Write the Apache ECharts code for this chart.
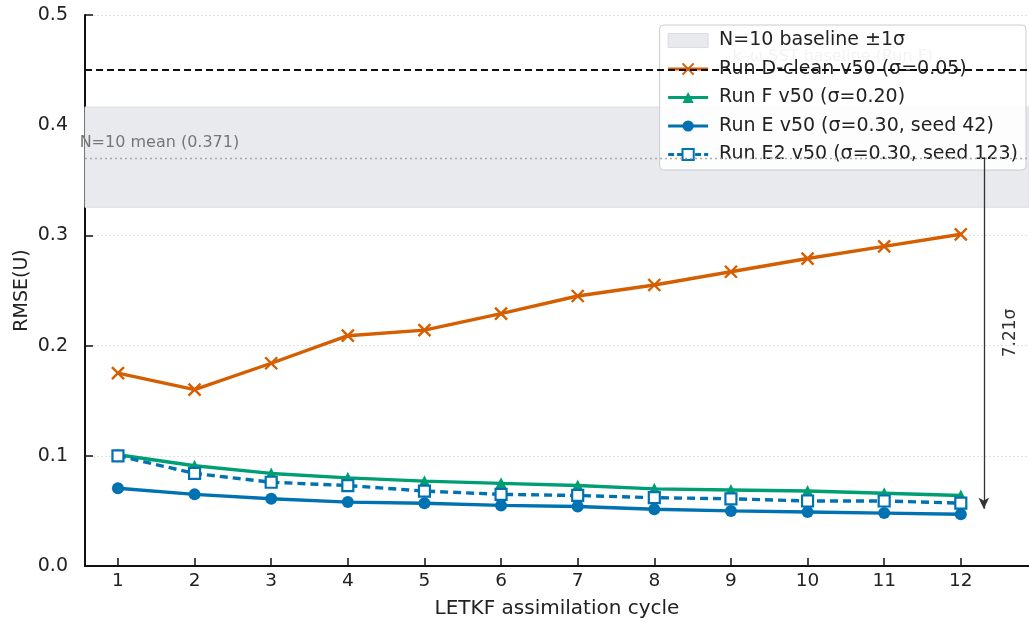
<!DOCTYPE html>
<html>
<head>
<meta charset="utf-8">
<script src="https://cdn.jsdelivr.net/npm/echarts@6/dist/echarts.min.js"></script>
<style>
  html, body { margin: 0; padding: 0; background: #fff; }
  #chart { width: 1029px; height: 624px; }
</style>
</head>
<body>
<div id="chart"></div>
<script>
// data
const cycles = [1, 2, 3, 4, 5, 6, 7, 8, 9, 10, 11, 12];
const runD = [0.175, 0.160, 0.184, 0.209, 0.214, 0.229, 0.245, 0.255, 0.267, 0.279, 0.290, 0.301];
const runF = [0.101, 0.091, 0.084, 0.080, 0.077, 0.075, 0.073, 0.070, 0.069, 0.068, 0.066, 0.064];
const runE = [0.0705, 0.065, 0.061, 0.058, 0.057, 0.055, 0.054, 0.0515, 0.050, 0.049, 0.048, 0.047];
const runE2 = [0.100, 0.084, 0.076, 0.073, 0.068, 0.065, 0.064, 0.062, 0.061, 0.059, 0.059, 0.057];
const yTicks = [0, 0.1, 0.2, 0.3, 0.4, 0.5];
const baselineMean = 0.371;
const baselineSigma = 0.0455;
const ksstBaseline = 0.448;
const arrowX = 12.3;
const arrowEnd = 0.052;
const gapLabel = '7.21σ';

const names = {
  band: 'N=10 baseline ±1σ',
  d: 'Run D-clean v50 (σ=0.05)',
  f: 'Run F v50 (σ=0.20)',
  e: 'Run E v50 (σ=0.30, seed 42)',
  e2: 'Run E2 v50 (σ=0.30, seed 123)'
};

const FONT = 'DejaVu Sans';
const ORANGE = '#d55e00';
const GREEN = '#009e73';
const BLUE = '#0072b2';
const BAND = '#e9eaed';
const LW = 3.4;

const pairs = arr => cycles.map((c, i) => [c, arr[i]]);

const chart = echarts.init(document.getElementById('chart'), null, { renderer: 'canvas' });

const option = {
  animation: false,
  backgroundColor: '#fff',
  textStyle: { fontFamily: FONT },
  grid: { left: 85, right: 0, top: 15, bottom: 58, outerBoundsMode: 'none', containLabel: false },
  legend: {
    orient: 'vertical',
    right: 3,
    top: 25,
    padding: [6, 8, 6, 7],
    itemGap: 9.5,
    itemWidth: 40,
    itemHeight: 14,
    backgroundColor: 'rgba(255,255,255,0.88)',
    borderColor: '#cccccc',
    borderWidth: 1,
    borderRadius: 4,
    textStyle: { fontFamily: FONT, fontSize: 19, color: '#222', padding: [0, 0, 0, 6] },
    data: [
      { name: names.band, icon: 'rect', itemStyle: { color: BAND, borderColor: '#dcdde0', borderWidth: 1 } },
      { name: names.d, lineStyle: { width: 3 } },
      { name: names.f, lineStyle: { width: 3 } },
      { name: names.e, lineStyle: { width: 3 } },
      { name: names.e2, lineStyle: { width: 3, type: [6, 3] } }
    ]
  },
  xAxis: {
    type: 'value',
    min: 0.57,
    max: 12.89,
    name: 'LETKF assimilation cycle',
    nameLocation: 'middle',
    nameGap: 33,
    nameTextStyle: { fontFamily: FONT, fontSize: 20, color: '#222' },
    axisLine: { lineStyle: { color: '#111', width: 2 } },
    axisTick: { show: true, inside: true, length: 8, lineStyle: { color: '#111', width: 1.5 }, customValues: cycles },
    axisLabel: { fontFamily: FONT, fontSize: 18.5, color: '#222', margin: 6, customValues: cycles },
    splitLine: { show: false }
  },
  yAxis: {
    type: 'value',
    min: 0,
    max: 0.5,
    interval: 0.1,
    name: 'RMSE(U)',
    nameLocation: 'middle',
    nameGap: 53,
    nameMoveOverlap: false,
    nameTextStyle: { fontFamily: FONT, fontSize: 19, color: '#222' },
    axisLine: { show: true, lineStyle: { color: '#111', width: 2 } },
    axisTick: { show: true, inside: true, length: 8, lineStyle: { color: '#111', width: 1.5 } },
    axisLabel: {
      fontFamily: FONT, fontSize: 19, color: '#222', margin: 17,
      formatter: v => v.toFixed(1)
    },
    splitLine: { show: true, lineStyle: { color: '#e2e2e2', type: [2, 2], width: 1 } }
  },
  series: [
    {
      name: names.band,
      type: 'line',
      data: [],
      color: BAND,
      z: 1,
      markArea: {
        silent: true,
        itemStyle: { color: BAND, borderColor: '#dfe0e3', borderWidth: 1 },
        data: [[{ yAxis: baselineMean - baselineSigma }, { yAxis: baselineMean + baselineSigma }]]
      },
      markLine: {
        silent: true,
        symbol: 'none',
        label: { show: false },
        data: [
          { yAxis: ksstBaseline, lineStyle: { color: '#111', type: [7, 4], width: 1.8 } },
          { yAxis: baselineMean, lineStyle: { color: '#aaa', type: [2, 3], width: 1.3 } },
          [
            { coord: [arrowX, baselineMean], symbol: 'none',
              lineStyle: { color: '#333', type: 'solid', width: 1.3 } },
            { coord: [arrowX, arrowEnd], symbol: 'arrow', symbolSize: [8, 11] }
          ]
        ]
      }
    },
    {
      name: names.d,
      type: 'line',
      data: pairs(runD),
      color: ORANGE,
      symbol: 'path://M0,0L10,10M10,0L0,10',
      symbolSize: 12,
      itemStyle: { color: ORANGE, borderColor: ORANGE, borderWidth: 2.4 },
      lineStyle: { width: LW, color: ORANGE },
      z: 3
    },
    {
      name: names.f,
      type: 'line',
      data: pairs(runF),
      color: GREEN,
      symbol: 'triangle',
      symbolSize: 12,
      itemStyle: { color: GREEN },
      lineStyle: { width: LW, color: GREEN },
      z: 3
    },
    {
      name: names.e,
      type: 'line',
      data: pairs(runE),
      color: BLUE,
      symbol: 'circle',
      symbolSize: 12,
      itemStyle: { color: BLUE },
      lineStyle: { width: LW, color: BLUE },
      z: 3
    },
    {
      name: names.e2,
      type: 'line',
      data: pairs(runE2),
      color: BLUE,
      symbol: 'rect',
      symbolSize: 11,
      itemStyle: { color: '#fff', borderColor: BLUE, borderWidth: 2.2 },
      lineStyle: { width: LW, color: BLUE, type: [8, 5] },
      z: 4
    }
  ]
};

chart.setOption(option);

// annotation texts placed from data coordinates
const toPx = p => chart.convertToPixel({ gridIndex: 0 }, p);
const meanPos = toPx([0.5, baselineMean]);
const ksstPos = toPx([10.33, ksstBaseline]);
const gapPos = toPx([arrowX, (baselineMean + arrowEnd) / 2]);
chart.setOption({
  graphic: [
    {
      type: 'text', z: 1, silent: true,
      x: meanPos[0], y: meanPos[1] - 6,
      style: { text: 'N=10 mean (0.371)', font: '16px "DejaVu Sans"', fill: '#777', textAlign: 'left', textVerticalAlign: 'bottom' }
    },
    {
      type: 'text', z: 1, silent: true,
      x: ksstPos[0], y: ksstPos[1] - 7,
      style: { text: 'k–ω SST baseline (Run F)', font: '16px "DejaVu Sans"', fill: '#999', textAlign: 'center', textVerticalAlign: 'bottom' }
    },
    {
      type: 'text', z: 5, silent: true,
      x: gapPos[0] + 27, y: gapPos[1],
      rotation: Math.PI / 2,
      style: { text: gapLabel, font: '17px "DejaVu Sans"', fill: '#333', textAlign: 'center', textVerticalAlign: 'middle' }
    }
  ]
});
</script>
</body>
</html>
